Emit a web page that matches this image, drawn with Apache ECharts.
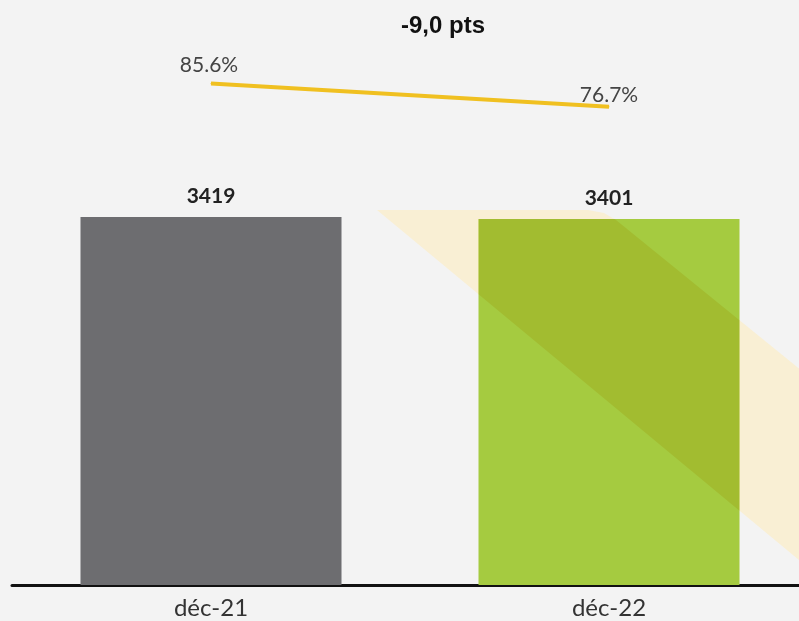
<!DOCTYPE html>
<html>
<head>
<meta charset="utf-8">
<script src="https://cdn.jsdelivr.net/npm/echarts@6/dist/echarts.min.js"></script>
<style>
html,body{margin:0;padding:0;background:#f3f3f3;}
#chart{width:799px;height:621px;}
</style>
</head>
<body>
<div id="chart"></div>
<script>
const categories = ['déc-21', 'déc-22'];
const barValues = [3419, 3401];
const rateValues = [85.6, 76.7];
const titleText = '-9,0 pts';
const barColors = ['#6d6d70', '#a5cb40'];

// decorative diagonal band (background ornament, not data)
const bandShape = [[377, 210], [588, 210], [604, 213], [616, 220], [870, 426], [870, 619]];

const chart = echarts.init(document.getElementById('chart'), null, {renderer: 'canvas'});

const option = {
  backgroundColor: '#f3f3f3',
  animation: false,
  title: {
    text: titleText,
    left: 438, top: 9,
    textAlign: 'center',
    textStyle: {fontFamily: 'Liberation Sans', fontWeight: 'bold', fontSize: 24, color: '#111'}
  },
  grid: {left: 12, width: 796, top: 47, bottom: 36, containLabel: false, outerBoundsMode: 'none'},
  xAxis: {
    type: 'category',
    data: categories,
    axisLine: {show: true, lineStyle: {color: '#111', width: 3}},
    axisTick: {show: false},
    axisLabel: {fontFamily: 'Lato', fontSize: 24, color: '#333', margin: 11}
  },
  yAxis: [
    {type: 'value', min: 0, max: 5000, show: false},
    {type: 'value', min: -106.4, max: 99.6, show: false}
  ],
  series: [
    {
      type: 'bar',
      data: barValues.map((v, i) => ({value: v, itemStyle: {color: barColors[i]}})),
      barWidth: 261,
      label: {
        show: true, position: 'top', distance: 10,
        fontFamily: 'Lato', fontWeight: 'bold', fontSize: 21, color: '#222'
      },
      z: 2
    },
    {
      type: 'line',
      yAxisIndex: 1,
      data: rateValues,
      symbol: 'circle',
      symbolSize: 1,
      showSymbol: true,
      itemStyle: {color: '#f0c020'},
      lineStyle: {color: '#f0c020', width: 4},
      label: {
        show: true, position: 'top',
        formatter: p => p.value.toFixed(1) + '%',
        fontFamily: 'Lato', fontSize: 21, color: '#444'
      },
      labelLayout: p => ({hideOverlap: false, dx: p.dataIndex === 0 ? -2 : 0, dy: p.dataIndex === 0 ? -2 : 4}),
      z: 3
    }
  ],
  graphic: [
    {
      type: 'polygon', id: 'bandBack', z: 0, silent: true,
      shape: {points: bandShape},
      style: {fill: '#f9efd4'}
    }
  ]
};
chart.setOption(option);

// clip the band to the green bar so the overlap is drawn darker
function clipPoly(poly, x0, y0, x1, y1) {
  const edges = [
    [p => p[0] >= x0, (a, b) => { const t = (x0 - a[0]) / (b[0] - a[0]); return [x0, a[1] + t * (b[1] - a[1])]; }],
    [p => p[0] <= x1, (a, b) => { const t = (x1 - a[0]) / (b[0] - a[0]); return [x1, a[1] + t * (b[1] - a[1])]; }],
    [p => p[1] >= y0, (a, b) => { const t = (y0 - a[1]) / (b[1] - a[1]); return [a[0] + t * (b[0] - a[0]), y0]; }],
    [p => p[1] <= y1, (a, b) => { const t = (y1 - a[1]) / (b[1] - a[1]); return [a[0] + t * (b[0] - a[0]), y1]; }]
  ];
  let out = poly;
  edges.forEach(([inside, inter]) => {
    const inp = out; out = [];
    for (let i = 0; i < inp.length; i++) {
      const cur = inp[i], prev = inp[(i + inp.length - 1) % inp.length];
      if (inside(cur)) {
        if (!inside(prev)) out.push(inter(prev, cur));
        out.push(cur);
      } else if (inside(prev)) {
        out.push(inter(prev, cur));
      }
    }
  });
  return out;
}
const top2 = chart.convertToPixel({seriesIndex: 0}, [1, barValues[1]]);
const base2 = chart.convertToPixel({seriesIndex: 0}, [1, 0]);
const overlap = clipPoly(bandShape, top2[0] - 130.5, top2[1], top2[0] + 130.5, base2[1]);
chart.setOption({
  graphic: [
    {
      type: 'polygon', id: 'bandFront', z: 10, silent: true,
      shape: {points: overlap},
      style: {fill: 'rgb(251,237,190)', blend: 'multiply'}
    }
  ]
});
</script>
</body>
</html>
